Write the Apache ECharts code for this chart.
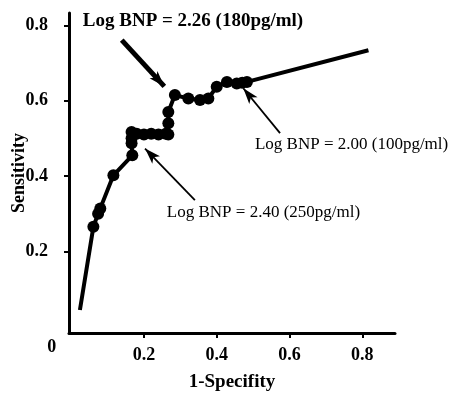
<!DOCTYPE html>
<html><head><meta charset="utf-8">
<script src="https://cdn.jsdelivr.net/npm/echarts@6/dist/echarts.min.js"></script>
<style>html,body{margin:0;padding:0;background:#fff}#c{width:452px;height:394px}</style>
</head><body><div id="c"></div>
<script>
// ROC curve points: [1-specificity, sensitivity]
const fpr = [0.024, 0.061, 0.074, 0.080, 0.116, 0.168, 0.166, 0.166, 0.166, 0.18, 0.20, 0.22, 0.24, 0.26, 0.267, 0.267, 0.267, 0.285, 0.322, 0.354, 0.377, 0.40, 0.428, 0.455, 0.470, 0.483, 0.817];
const tpr = [0.044, 0.265, 0.300, 0.314, 0.402, 0.455, 0.487, 0.500, 0.517, 0.512, 0.510, 0.512, 0.510, 0.512, 0.540, 0.570, 0.510, 0.615, 0.606, 0.602, 0.606, 0.637, 0.650, 0.646, 0.648, 0.650, 0.734];
const showMarker = [false, true, true, true, true, true, true, true, true, true, true, true, true, true, true, true, true, true, true, true, true, true, true, true, true, true, false];
const xTicks = [0.2, 0.4, 0.6, 0.8];
const yTicks = [0.2, 0.4, 0.6, 0.8];
const xName = '1-Specifity';
const yName = 'Sensitivity';
const annotations = [
  { text: 'Log BNP = 2.26 (180pg/ml)', at: [0.032, 0.809], bold: true, size: 19 },
  { text: 'Log BNP = 2.00 (100pg/ml)', at: [0.505, 0.482], bold: false, size: 17 },
  { text: 'Log BNP = 2.40 (250pg/ml)', at: [0.263, 0.301], bold: false, size: 17 }
];
const arrows = [
  { from: [0.139, 0.761], to: [0.256, 0.638], thick: true },
  { from: [0.574, 0.514], to: [0.473, 0.633], thick: false },
  { from: [0.340, 0.336], to: [0.203, 0.473], thick: false }
];

// drawing order along the curve
const order = [0,1,2,3,4,5,6,7,8,9,10,11,12,13,16,14,15,17,18,19,20,21,22,23,24,25,26];
const data = order.map(i => ({ value: [fpr[i], tpr[i]], symbol: showMarker[i] ? 'circle' : 'none' }));

const FONT = '"Liberation Serif","DejaVu Serif",serif';
const chart = echarts.init(document.getElementById('c'), null, { renderer: 'canvas' });
chart.setOption({
  animation: false,
  backgroundColor: '#fff',
  grid: { left: 69, right: 57, top: 13, bottom: 61, containLabel: false, outerBoundsMode: 'none' },
  xAxis: {
    type: 'value', min: -0.006, max: 0.89,
    name: xName, nameLocation: 'middle', nameGap: 40, nameMoveOverlap: false,
    nameTextStyle: { fontFamily: FONT, fontWeight: 'bold', fontSize: 19, color: '#000' },
    splitLine: { show: false },
    axisLine: { show: true, onZero: false, lineStyle: { color: '#000', width: 3 } },
    axisTick: { show: true, customValues: xTicks, length: 5, lineStyle: { color: '#000', width: 2 } },
    axisLabel: { customValues: xTicks, margin: 13, fontFamily: FONT, fontWeight: 'bold', fontSize: 18, color: '#000', formatter: v => v.toFixed(1) }
  },
  yAxis: {
    type: 'value', min: -0.017, max: 0.833,
    name: yName, nameLocation: 'middle', nameGap: 41, nameRotate: 90, nameMoveOverlap: false,
    nameTextStyle: { fontFamily: FONT, fontWeight: 'bold', fontSize: 18, color: '#000' },
    splitLine: { show: false },
    axisLine: { show: true, onZero: false, lineStyle: { color: '#000', width: 3 } },
    axisTick: { show: true, customValues: yTicks, length: 5, lineStyle: { color: '#000', width: 2 } },
    axisLabel: { customValues: yTicks, margin: 21, fontFamily: FONT, fontWeight: 'bold', fontSize: 18, color: '#000', formatter: v => v.toFixed(1) }
  },
  series: [{
    type: 'line',
    data: data,
    symbolSize: 12,
    showAllSymbol: true,
    itemStyle: { color: '#000' },
    lineStyle: { color: '#000', width: 4 },
    markLine: {
      silent: true,
      symbol: ['none', 'arrow'],
      label: { show: false },
      data: arrows.map(a => [
        { coord: a.from, symbolSize: a.thick ? 20 : 11, lineStyle: { color: '#000', width: a.thick ? 5 : 1.8, type: 'solid' } },
        { coord: a.to }
      ])
    }
  }]
});

function placeText() {
  const o = chart.convertToPixel({ gridIndex: 0 }, [0, 0]);
  chart.setOption({
    graphic: annotations.map(a => {
      const p = chart.convertToPixel({ gridIndex: 0 }, a.at);
      return {
        type: 'text', left: p[0], top: p[1] - a.size / 2 - 1,
        style: { text: a.text, fill: '#000', font: (a.bold ? 'bold ' : '') + a.size + 'px ' + FONT }
      };
    }).concat([{
      type: 'text',
      left: o[0] - 24,
      top: o[1] + 12,
      style: { text: '0', fill: '#000', font: 'bold 18px ' + FONT }
    }])
  });
}
placeText();
</script>
</body></html>
